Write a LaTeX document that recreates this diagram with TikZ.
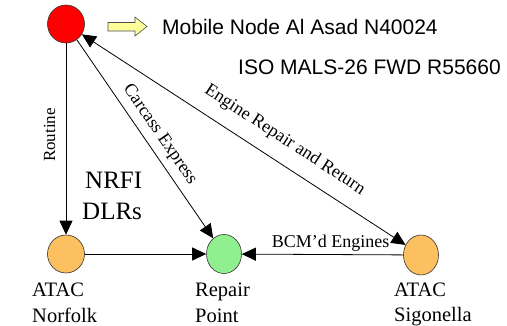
\documentclass[tikz,border=0pt]{standalone}
\usepackage{fontspec}
\setmainfont{Liberation Serif}
\newfontfamily\arialf{Liberation Sans}
\usetikzlibrary{arrows.meta,shapes.geometric}
\definecolor{redfill}{HTML}{FF0000}
\definecolor{orangefill}{HTML}{FCC060}
\definecolor{greenfill}{HTML}{90F090}
\definecolor{yellowfill}{HTML}{FFFF99}
\tikzset{
  site/.style={ellipse,draw=black!80,line width=0.6pt,inner sep=0pt},
  conn/.style={draw=black,line width=0.8pt,-{Triangle[length=14pt,width=13pt]}},
  lbl/.style={font=\fontsize{20.5}{24}\selectfont,inner sep=0pt,anchor=base west},
  elbl/.style={font=\fontsize{18}{20}\selectfont},
  toptxt/.style={font=\arialf\fontsize{21}{24}\selectfont,inner sep=0pt,anchor=base west}
}
\begin{document}
\begin{tikzpicture}[x=1pt,y=-1pt]
\useasboundingbox[fill=white] (0,0) rectangle (507,326);
% nodes
\node[site,fill=redfill,minimum width=37pt,minimum height=38pt] (red) at (66,24) {};
\node[site,fill=orangefill,minimum width=37pt,minimum height=38pt] (nor) at (66,254) {};
\node[site,fill=greenfill,minimum width=35pt,minimum height=39pt] (rep) at (224,254) {};
\node[site,fill=orangefill,minimum width=35pt,minimum height=40pt] (sig) at (421,255) {};
% block arrow
\draw[fill=yellowfill,draw=black!70,line width=0.6pt]
  (108,22.5) -- (135,22.5) -- (135,17) -- (147,26.5) -- (135,36) -- (135,31) -- (108,31) -- cycle;
% top texts
\node[toptxt] (mob) at (162,35) {Mobile Node Al Asad N40024};
\node[toptxt] (iso) at (238,75) {ISO MALS-26 FWD R55660};
% connectors
\draw[conn] (red) -- (nor);
\node[elbl,font=\fontsize{17}{20}\selectfont,rotate=90] (rout) at (49.5,135) {Routine};
\draw[conn] (red) -- node[elbl,sloped,above=3pt,pos=0.52] (carc) {Carcass Express} (rep);
\draw[conn,{Triangle[length=14pt,width=13pt]}-{Triangle[length=14pt,width=13pt]}] (sig) -- node[elbl,sloped,above=10pt,pos=0.41] (eng) {Engine Repair and Return} (red);
\draw[conn] (nor) -- (rep);
\draw[conn] (sig) -- node[elbl,above=-1pt,pos=0.45] (bcm) {BCM'd Engines} (rep);
% NRFI DLRs
\node[lbl,font=\fontsize{25}{28}\selectfont] (nrfi) at (85,188.5) {NRFI};
\node[lbl,font=\fontsize{25}{28}\selectfont] (dlrs) at (82,219.5) {DLRs};
% bottom labels
\node[lbl] (n1) at (32,296.5) {ATAC};
\node[lbl] (n2) at (32,323) {Norfolk};
\node[lbl] (r1) at (195,296.5) {Repair};
\node[lbl] (r2) at (195,323) {Point};
\node[lbl] (s1) at (394,296.5) {ATAC};
\node[lbl] (s2) at (394,322) {Sigonella};
\end{tikzpicture}
\end{document}
